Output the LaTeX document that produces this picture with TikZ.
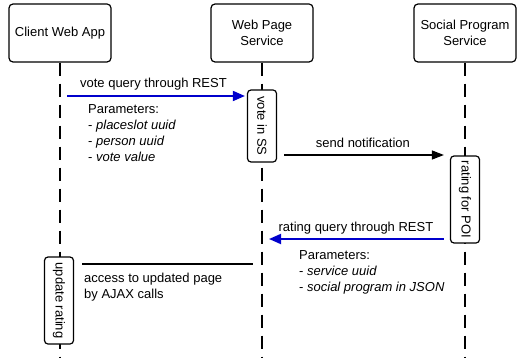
\documentclass[tikz,border=0pt]{standalone}
\usepackage{fontspec}
\usepackage{graphicx}
\setmainfont{Liberation Sans}
\usetikzlibrary{arrows.meta}
\definecolor{restblue}{RGB}{0,0,204}
\tikzset{
	lane/.style={draw, fill=white, rounded corners=4pt, line width=1.2pt, minimum width=102pt, minimum height=58pt, align=center},
	act/.style={draw, fill=white, rounded corners=3.5pt, line width=1.2pt, minimum width=29pt, inner sep=0pt},
	life/.style={line width=1.2pt, dash pattern=on 13pt off 8pt},
	msg/.style={line width=1.2pt, -{Triangle[length=12pt,width=9pt]}},
	rest/.style={line width=1.8pt, draw=restblue, -{Triangle[length=12pt,width=10pt,fill=restblue]}},
	params/.style={anchor=north west, align=left, inner sep=0pt},
	lbl/.style={anchor=base, inner sep=0pt, yshift=8pt}
}
\begin{document}
\begin{tikzpicture}[x=1pt,y=-1pt,font=\fontsize{13}{16}\selectfont]
				\useasboundingbox (0,0) rectangle (518,358);
				\node[lane] (client) at (60,33) {Client Web App};
				\node[lane] (web) at (262,33) {Web Page\\Service};
				\node[lane] (social) at (465,33) {Social Program\\Service};
				\coordinate (clientEnd) at (60,358);
				\coordinate (webEnd) at (262,358);
				\coordinate (socialEnd) at (465,358);
				\draw[life] (client.south) to (clientEnd);
				\draw[life] (web.south) to (webEnd);
				\draw[life] (social.south) to (socialEnd);
				\node[act, minimum height=72pt] (vote) at (262,126) {\rotatebox{-90}{vote in SS}};
				\node[act, minimum height=87pt] (rating) at (465,199.5) {\rotatebox{-90}{rating for POI}};
				\node[act, minimum height=87pt] (update) at (59,300.5) {\rotatebox{-90}{update rating}};
				\coordinate (vq) at (60,96);
				\coordinate (sn) at (262,155);
				\coordinate (rq) at (465,239);
				\coordinate (ax) at (60,264);
				\draw[rest, shorten <=7pt, shorten >=2pt] (vq) to node[lbl] (vqLabel) {vote query through REST} (vq -| vote.west);
				\draw[msg, shorten <=22pt, shorten >=6pt] (sn) to node[lbl, xshift=7pt] (snLabel) {send notification} (sn -| rating.west);
				\draw[rest, shorten <=6pt, shorten >=7pt] (rq -| rating.west) to node[lbl] (rqLabel) {rating query through REST} (rq -| web.south);
				\draw[line width=1.2pt, shorten <=8pt, shorten >=9pt] (ax -| update.east) to (ax -| web.south);
				%\draw[rest] (ax -| update.east) to (ax -| web.south);
				\node[params] (vqParams) at (88,104) {Parameters:\\- \textit{placeslot uuid}\\- \textit{person uuid}\\- \textit{vote value}};
				\node[params] (rqParams) at (299,250) {Parameters:\\- \textit{service uuid}\\- \textit{social program in JSON}};
				\node[params] (axLabel) at (84,273) {access to updated page\\by AJAX calls};
			\end{tikzpicture}
\end{document}
